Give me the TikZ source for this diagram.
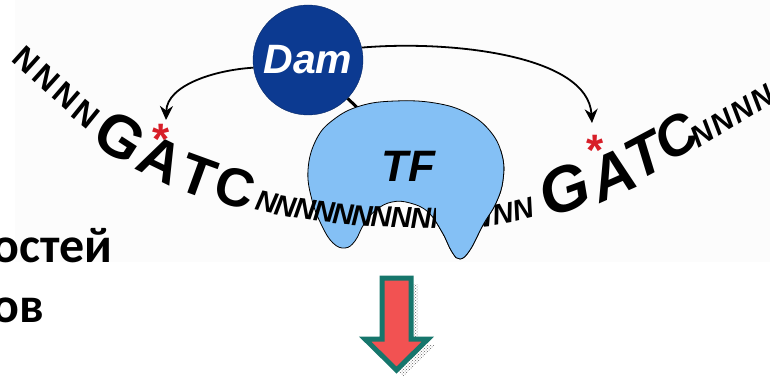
\documentclass[tikz,border=0pt]{standalone}
\usepackage{fontspec}
\setmainfont{Liberation Sans}
\newfontfamily\rusfont{Carlito}
\usepackage{tikz}
\usetikzlibrary{arrows.meta,patterns}
\definecolor{damblue}{RGB}{12,58,145}
\definecolor{tfblue}{RGB}{132,192,245}
\definecolor{sitered}{RGB}{215,30,40}
\definecolor{arrowred}{RGB}{242,82,82}
\definecolor{arrowteal}{RGB}{22,118,108}
% #1 size in pt, #2 shape (n or it)
\newcommand{\dnafont}[2]{\bfseries\fontshape{#2}\fontsize{#1}{#1}\selectfont}
\tikzstyle{letter} = [inner sep=0pt]
\tikzstyle{enzyme} = [circle, fill=damblue, draw=damblue!70!black, minimum size=110pt, inner sep=0pt, text=white, font=\dnafont{41}{it}]
\tikzstyle{protein} = [fill=tfblue, draw=black, line width=0.8pt]
\tikzstyle{site} = [anchor=north, inner sep=0pt, text=sitered, font=\bfseries\fontsize{44}{44}\selectfont]
\tikzstyle{methyl} = [-{Stealth[length=14pt,width=13pt]}, line width=1.8pt]
\tikzstyle{bigarrow} = [fill=arrowred, draw=arrowteal, line width=5pt, line join=miter]
\tikzstyle{caption} = [anchor=base west, inner sep=0pt, font=\rusfont\bfseries\fontsize{50}{50}\selectfont]
% outline of the TF protein, image coordinates
\newcommand{\tfoutline}{plot[smooth cycle, tension=0.7] coordinates {
  (345,248) (333,243) (322,226) (312,200) (308,170) (316,140) (333,120)
  (360,106) (395,101) (435,103) (467,113) (490,131) (502,155) (503,180)
  (496,203) (483,225) (470,250) (460,259) (452,252) (442,232) (428,212)
  (410,203) (392,202) (376,210) (364,224) (355,241)}}
\newcommand{\arrowoutline}{(382,278) -- (411,278) -- (411,339) -- (428,339)
  -- (396.5,370) -- (365,339) -- (382,339) -- cycle}

\begin{document}
\begin{tikzpicture}[x=1pt,y=-1pt]
    \useasboundingbox (0,0) rectangle (770,377);
    \fill[black!1] (15,0) rectangle (770,262);

    % Dam and its link to TF
    \node[enzyme] (dam) at (308,60) {Dam};
    \coordinate (neck) at (372,122);
    \draw[line width=3pt] (dam) -- (neck);
    \path[protein] \tfoutline;

    % DNA strand: x/y/angle/size/shape/letter
    \foreach \x/\y/\a/\s/\f/\l [count=\i] in {
        26/60/-42/32/n/N, 46/78/-42/32/n/N, 66/96/-41/32/n/N, 86/114/-39/33/n/N,
        120/137/-33/60/n/G, 161/160/-26/58/n/A, 198/176/-20/56/n/T, 235/188/-15/54/n/C,
        267/202/-12/29/it/N, 286/206/-10/29/it/N, 305/209/-8/29/it/N, 324/212/-6/29/it/N,
        343/214/-4/29/it/N, 362/216/-3/29/it/N, 381/217/-1/29/it/N, 401/218/0/29/it/N,
        421/218/1/29/it/N, 441/218/2/29/it/N, 461/218/4/29/it/N, 481/217/6/29/it/N,
        503/214/10/29/it/N, 523/209/14/29/it/N,
        564/189/20/64/it/G, 612/175/24/62/it/A, 645/156/28/58/it/T, 676/137/31/56/it/C,
        702/134/32/30/it/N, 722/122/32/30/it/N, 742/110/32/30/it/N, 762/98/32/30/it/N}
        \node[letter, rotate=\a, font=\dnafont{\s}{\f}] (dna\i) at (\x,\y) {\l};

    % right lobe lies over the strand
    \begin{scope}
        \clip (436,150) rectangle (530,280);
        \path[protein] \tfoutline;
    \end{scope}
    \node[letter, font=\dnafont{44}{it}] (tf) at (408,166) {TF};

    % methylation sites
    \node[site] (lstar) at (161,124) {*};
    \node[site] (rstar) at (595,135) {*};
    \coordinate (ltip) at (166,120);
    \coordinate (rtip) at (592,123);
    \draw[methyl] (dam.188) .. controls (215,70) and (167,85) .. (ltip);
    \draw[methyl] (dam.13) .. controls (450,40) and (588,55) .. (rtip);

    % down arrow with shadow
    \begin{scope}[shift={(7,6)}]
        \fill[pattern=crosshatch dots, pattern color=black!60] \arrowoutline;
    \end{scope}
    \path[bigarrow] \arrowoutline;

    \node[caption] (line1) at (-8,262) {остей};
    \node[caption] (line2) at (-8,322) {ов};
\end{tikzpicture}
\end{document}
